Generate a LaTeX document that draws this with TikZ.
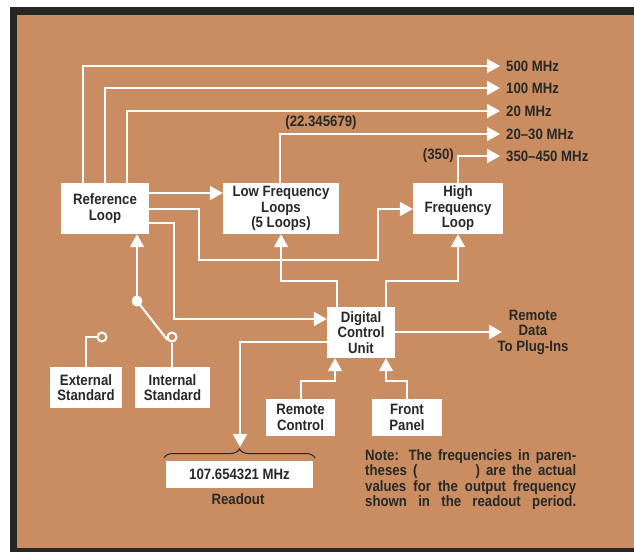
\documentclass[tikz,border=0pt]{standalone}
\usepackage{fontspec}
\setmainfont{Liberation Sans}[FakeStretch=0.88]
\usetikzlibrary{arrows.meta,decorations.pathreplacing}
\definecolor{bgtan}{RGB}{201,141,97}
\definecolor{framedark}{RGB}{38,38,36}
\definecolor{txt}{RGB}{40,40,38}
\begin{document}
\begin{tikzpicture}[x=1pt,y=-1pt,
  fnt/.style={font=\bfseries\fontsize{15}{15.5}\selectfont},
  box/.style={fnt, fill=white, text=txt, align=center, inner sep=0pt},
  lbl/.style={fnt, text=txt, inner sep=2pt},
  wire/.style={draw=white, line width=2pt},
  arr/.style={wire, -{Triangle[length=13pt,width=14pt]}},
  term/.style={circle, draw=white, line width=2pt, fill=bgtan, minimum size=9pt, inner sep=0pt}
]
\useasboundingbox (0,0) rectangle (634,552);
\fill[white] (0,0) rectangle (634,552);
\fill[framedark] (10,7) rectangle (634,552);
\fill[bgtan] (17,15) rectangle (634,548);

% blocks
\node[box, minimum width=88pt, minimum height=51pt] (RL) at (105,208.5) {Reference\\Loop};
\node[box, minimum width=116pt, minimum height=51pt] (LF) at (281,208.5) {Low Frequency\\Loops\\(5 Loops)};
\node[box, minimum width=90pt, minimum height=51pt] (HF) at (458,208.5) {High\\Frequency\\Loop};
\node[box, minimum width=68pt, minimum height=51pt] (DCU) at (361,332.5) {Digital\\Control\\Unit};
\node[box, minimum width=69pt, minimum height=37pt] (RC) at (300.5,417.5) {Remote\\Control};
\node[box, minimum width=70pt, minimum height=37pt] (FP) at (407,417.5) {Front\\Panel};
\node[box, minimum width=72pt, minimum height=41pt] (ES) at (86,387.5) {External\\Standard};
\node[box, minimum width=75pt, minimum height=41pt] (IS) at (172.5,387.5) {Internal\\Standard};
\node[box, minimum width=147pt, minimum height=27pt] (RO) at (239.5,474.5) {107.654321 MHz};
\node[lbl] (ROL) at (238,499) {Readout};

% output labels
\node[lbl, anchor=west] (L500) at (504,66) {500 MHz};
\node[lbl, anchor=west] (L100) at (504,88) {100 MHz};
\node[lbl, anchor=west] (L20) at (504,111) {20 MHz};
\node[lbl, anchor=west] (L2030) at (504,134) {20--30 MHz};
\node[lbl, anchor=west] (L350) at (504,156) {350--450 MHz};
\node[lbl] (v22) at (321,123) {(22.345679)};
\node[lbl, anchor=east] (v350) at (456,156) {(350)};
\node[lbl, align=center] (RD) at (533,332) {Remote\\Data\\To Plug-Ins};
\coordinate (rdtip) at (502,332);

% outputs
\draw[arr, shorten >=4pt] ([xshift=-22pt]RL.north) |- (L500.west);
\draw[arr, shorten >=4pt] (RL.north) |- (L100.west);
\draw[arr, shorten >=4pt] ([xshift=22pt]RL.north) |- (L20.west);
\draw[arr, shorten >=4pt] ([xshift=-1pt]LF.north) |- (L2030.west);
\draw[arr, shorten >=4pt] (HF.north) |- (L350.west);

% reference loop outputs
\draw[arr] (RL.east |- 0,193) -- (LF.west |- 0,193);
\draw[arr] (RL.east |- 0,209) -| (199,260) -| (378,209) -- (HF.west |- 0,209);
\draw[arr] (RL.east |- 0,223) -| (174,319) -- (DCU.west |- 0,319);

% DCU to loops
\draw[arr] ([xshift=-24pt]DCU.north) |- (LF.south |- 0,281) -- (LF.south);
\draw[arr] ([xshift=25pt]DCU.north) |- (HF.south |- 0,281) -- (HF.south);

% DCU outputs
\draw[arr] (DCU.east |- 0,332) -- (rdtip);
\coordinate (bracetip) at (240,447);
\draw[arr] (DCU.west |- 0,342) -| (bracetip);
\draw[txt, line width=1pt, decorate, decoration={brace, amplitude=9pt}] (164,458) -- (315,458);

% inputs to DCU
\draw[arr] (RC.north) |- ([xshift=-26pt]DCU.south |- 0,381) -- ([xshift=-26pt]DCU.south);
\draw[arr] (FP.north) |- ([xshift=25pt]DCU.south |- 0,381) -- ([xshift=25pt]DCU.south);

% switch
\node[term] (cES) at (102,337) {};
\node[term] (cIS) at (172,337) {};
\node[circle, fill=white, minimum size=11pt, inner sep=0pt] (sw) at (137,301) {};
\draw[wire] (ES.north) |- (cES.west);
\draw[wire] (IS.north -| cIS) -- (cIS.south);
\draw[wire, shorten >=1pt] (sw.center) -- (cIS.south west);
\draw[arr] (sw.center) -- (RL.south -| sw);

% note
\node[fnt, text=txt, anchor=north west, text width=211pt, align=justify, inner sep=0pt] (note) at (365,449)
 {\parfillskip=0pt\relax Note: The frequencies in paren-\linebreak theses (\hspace*{58pt}) are the actual\linebreak values for the output frequency\linebreak shown in the readout period.\par};
\end{tikzpicture}
\end{document}
